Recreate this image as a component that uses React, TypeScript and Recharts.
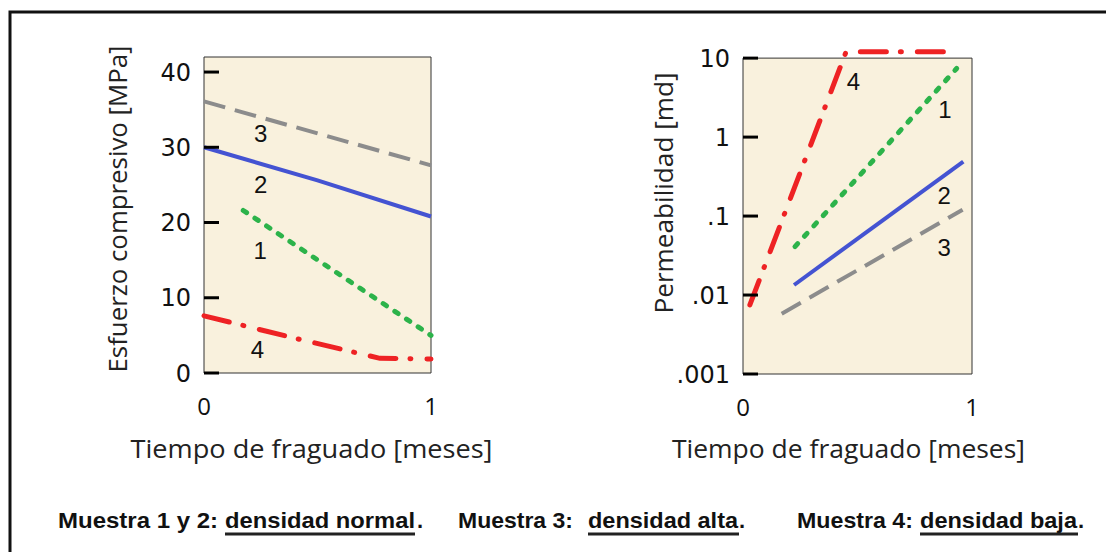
import { LineChart, Line, XAxis, YAxis, ReferenceArea, ReferenceDot } from 'recharts';

// Esfuerzo compresivo [MPa] vs tiempo de fraguado [meses]
const strengthT1 = [0.173, 1];
const strengthV1 = [21.6, 5.0];
const strengthT2 = [0, 0.5, 1];
const strengthV2 = [30, 25.6, 20.8];
const strengthT3 = [0, 1];
const strengthV3 = [36.1, 27.6];
const strengthT4 = [0, 0.39, 0.775, 1];
const strengthV4 = [7.6, 4.7, 1.95, 1.85];

// Permeabilidad [md] vs tiempo de fraguado [meses]
const permT1 = [0.227, 0.933];
const permV1 = [0.041, 7.4];
const permT2 = [0.223, 0.962];
const permV2 = [0.0134, 0.49];
const permT3 = [0.169, 0.959];
const permV3 = [0.0058, 0.12];
const permT4 = [0.03, 0.45, 0.92];
const permV4 = [0.0075, 12, 12];

const timeTicks = [0, 1];
const strengthTicks = [0, 10, 20, 30, 40];
const permTicks = [0.001, 0.01, 0.1, 1, 10];
const permTickLabels = ['.001', '.01', '.1', '1', '10'];

// curve numbers written next to each line
const tagNames = ['1', '2', '3', '4'];
const strengthTagT = [0.247, 0.25, 0.25, 0.235];
const strengthTagV = [16.3, 25.1, 31.9, 3.06];
const permTagT = [0.882, 0.878, 0.878, 0.482];
const permTagV = [2.24, 0.18, 0.04, 5.0];

const zip = (t: number[], v: number[]) => t.map((x, i) => ({ x, y: v[i] }));

const lineStyle: Record<string, any> = {
  '1': { stroke: '#2cb34a', strokeWidth: 5, strokeDasharray: '4 10', strokeLinecap: 'round' },
  '2': { stroke: '#4453d2', strokeWidth: 4 },
  '3': { stroke: '#8c8c8c', strokeWidth: 4, strokeDasharray: '22 10' },
  '4': { stroke: '#ee2224', strokeWidth: 5, strokeDasharray: '26 14 1 16', strokeLinecap: 'round' },
};

const plotFill = '#f9f1dd';
const titleFont = "'Open Sans', sans-serif";

const InTick = (props: any) => {
  const { x, y, payload, labels, values } = props;
  const idx = values ? values.indexOf(payload.value) : -1;
  const txt = idx >= 0 ? labels[idx] : String(payload.value);
  return (
    <g>
      <line x1={x + 13} x2={x + 28} y1={y} y2={y} stroke="#000" strokeWidth={3} />
      <text x={x} y={y} dy="0.36em" textAnchor="end" fontFamily="'DejaVu Sans', sans-serif" fontSize={24} fill="#111">
        {txt}
      </text>
    </g>
  );
};

const AxisTitle = (props: any) => {
  const { viewBox, text, dx = 0, dy = 0, len, vertical } = props;
  const x = vertical ? viewBox.x + dx : viewBox.x + viewBox.width / 2 + dx;
  const y = vertical ? viewBox.y + viewBox.height / 2 + dy : viewBox.y + dy;
  return (
    <text
      x={0}
      y={0}
      transform={`translate(${x},${y})${vertical ? ' rotate(-90)' : ''}`}
      textAnchor="middle"
      fontFamily={titleFont}
      fontSize={25}
      fill="#222"
      textLength={len}
      lengthAdjust="spacingAndGlyphs"
    >
      {text}
    </text>
  );
};

const tagLabel = (value: string) => ({
  value,
  position: 'center' as const,
  fontFamily: "'Liberation Sans', Arial, sans-serif",
  fontSize: 24,
  fill: '#111',
});

const xTick = { fontFamily: titleFont, fontSize: 24, fill: '#111' };

const StrengthChart = () => (
  <LineChart width={540} height={470} margin={{ top: 57, right: 109, bottom: 17, left: 30 }}>
    <XAxis
      type="number"
      dataKey="x"
      domain={[0, 1]}
      ticks={timeTicks}
      axisLine={false}
      tickLine={false}
      tickSize={0}
      tickMargin={25}
      height={80}
      tick={xTick}
      label={<AxisTitle text="Tiempo de fraguado [meses]" dx={-6} dy={85} len={362} />}
    />
    <YAxis
      type="number"
      dataKey="y"
      domain={[0, 42]}
      ticks={strengthTicks}
      width={174}
      axisLine={false}
      tickLine={false}
      tickSize={0}
      tickMargin={13}
      tick={(p: any) => <InTick {...p} />}
      label={<AxisTitle text="Esfuerzo compresivo [MPa]" vertical dx={97} dy={-6} len={327} />}
    />
    <ReferenceArea x1={0} x2={1} y1={0} y2={42} fill={plotFill} fillOpacity={1} stroke="#333" strokeWidth={1} />
    <Line data={zip(strengthT3, strengthV3)} dataKey="y" type="linear" dot={false} isAnimationActive={false} {...lineStyle['3']} />
    <Line data={zip(strengthT2, strengthV2)} dataKey="y" type="linear" dot={false} isAnimationActive={false} {...lineStyle['2']} />
    <Line data={zip(strengthT1, strengthV1)} dataKey="y" type="linear" dot={false} isAnimationActive={false} {...lineStyle['1']} />
    <Line data={zip(strengthT4, strengthV4)} dataKey="y" type="linear" dot={false} isAnimationActive={false} {...lineStyle['4']} />
    {tagNames.map((n, i) => (
      <ReferenceDot key={n} x={strengthTagT[i]} y={strengthTagV[i]} r={0} fill="none" stroke="none" label={tagLabel(n)} />
    ))}
  </LineChart>
);

const PermChart = () => (
  <LineChart width={540} height={470} margin={{ top: 42, right: 108, bottom: 16, left: 30 }}>
    <XAxis
      type="number"
      dataKey="x"
      domain={[0, 1]}
      ticks={timeTicks}
      axisLine={false}
      tickLine={false}
      tickSize={0}
      tickMargin={25}
      height={80}
      tick={xTick}
      label={<AxisTitle text="Tiempo de fraguado [meses]" dx={-9} dy={84} len={353} />}
    />
    <YAxis
      type="number"
      dataKey="y"
      scale="log"
      domain={[0.001, 16]}
      ticks={permTicks}
      width={173}
      axisLine={false}
      tickLine={false}
      tickSize={0}
      tickMargin={13}
      tick={(p: any) => <InTick {...p} labels={permTickLabels} values={permTicks} />}
      label={<AxisTitle text="Permeabilidad [md]" vertical dx={103} dy={-15} len={241} />}
    />
    <ReferenceArea x1={0} x2={1} y1={0.001} y2={10} fill={plotFill} fillOpacity={1} stroke="#333" strokeWidth={1} />
    <Line data={zip(permT3, permV3)} dataKey="y" type="linear" dot={false} isAnimationActive={false} {...lineStyle['3']} />
    <Line data={zip(permT2, permV2)} dataKey="y" type="linear" dot={false} isAnimationActive={false} {...lineStyle['2']} />
    <Line data={zip(permT1, permV1)} dataKey="y" type="linear" dot={false} isAnimationActive={false} {...lineStyle['1']} />
    <Line data={zip(permT4, permV4)} dataKey="y" type="linear" dot={false} isAnimationActive={false} {...lineStyle['4']} />
    {tagNames.map((n, i) => (
      <ReferenceDot key={n} x={permTagT[i]} y={permTagV[i]} r={0} fill="none" stroke="none" label={tagLabel(n)} />
    ))}
  </LineChart>
);

const footFont = "'Liberation Sans', Arial, sans-serif";

const Footer = () => {
  const base = 528;
  const t = (x: number, s: string, len?: number) => (
    <text x={x} y={base} fontFamily={footFont} fontWeight="bold" fontSize={22} fill="#111" textLength={len} lengthAdjust="spacingAndGlyphs">
      {s}
    </text>
  );
  const u = (x1: number, x2: number) => <line x1={x1} x2={x2} y1={534} y2={534} stroke="#222" strokeWidth={3} />;
  return (
    <g>
      {t(58, 'Muestra 1 y 2:', 160)}
      {t(225, 'densidad normal', 190)}
      {t(417, '.')}
      {u(225, 415)}
      {t(458, 'Muestra 3:', 115)}
      {t(588, 'densidad alta', 150)}
      {t(739, '.')}
      {u(588, 739)}
      {t(797, 'Muestra 4:', 116)}
      {t(920, 'densidad baja', 157)}
      {t(1078, '.')}
      {u(920, 1078)}
    </g>
  );
};

export default function App() {
  return (
    <div style={{ position: 'absolute', left: 0, top: 0, width: 1106, height: 552, background: '#fff', overflow: 'hidden' }}>
      <div style={{ position: 'absolute', left: 0, top: 0 }}>
        <StrengthChart />
      </div>
      <div style={{ position: 'absolute', left: 540, top: 0 }}>
        <PermChart />
      </div>
      <svg width={1106} height={552} style={{ position: 'absolute', left: 0, top: 0, pointerEvents: 'none' }}>
        <path d="M 10 560 V 12 H 1110" fill="none" stroke="#111" strokeWidth={3} />
        <Footer />
      </svg>
    </div>
  );
}
